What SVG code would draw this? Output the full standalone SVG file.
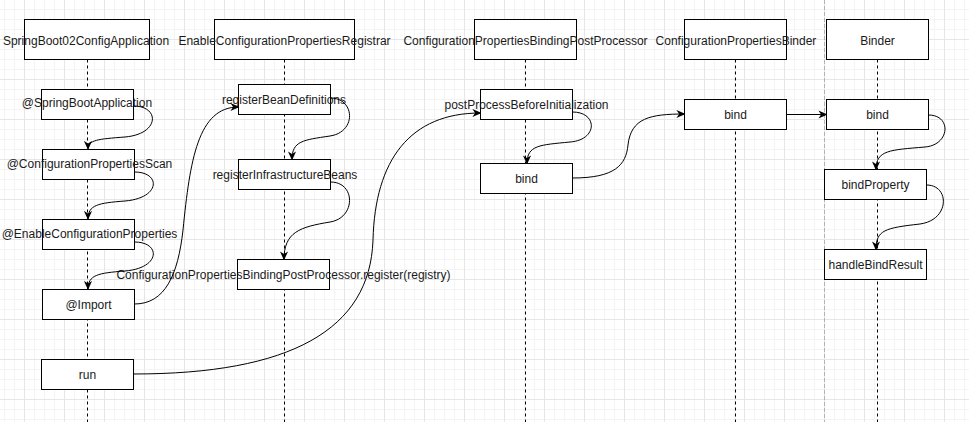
<svg xmlns="http://www.w3.org/2000/svg" width="969" height="422" viewBox="0 0 969 422">
<style>
.box{fill:#fff;stroke:#000;stroke-width:1}
.t{font-family:"Liberation Sans",Arial,Helvetica,sans-serif;font-size:12px;fill:#1a1a1a;text-anchor:middle}
.life{stroke:#000;stroke-width:1;stroke-dasharray:3 3;fill:none}
.edge{fill:none;stroke:#000;stroke-width:1;marker-end:url(#arr)}
</style>
<defs>
<pattern id="grid" width="40" height="40" patternUnits="userSpaceOnUse" x="24" y="39">
<path d="M10.5 0V40M20.5 0V40M30.5 0V40M0 10.5H40M0 20.5H40M0 30.5H40" stroke="#f4f4f4" stroke-width="1" fill="none"/>
<path d="M0.5 0V40M0 0.5H40" stroke="#e6e6e6" stroke-width="1" fill="none"/>
</pattern>
<marker id="arr" viewBox="0 0 10 10" refX="9" refY="5" markerWidth="9" markerHeight="9" markerUnits="userSpaceOnUse" orient="auto">
<path d="M0,0.5 L10,5 L0,9.5 L3,5 z" fill="#000"/>
</marker>
</defs>
<rect width="969" height="422" fill="#fff"/>
<rect width="969" height="422" fill="url(#grid)"/>
<line x1="824.5" y1="0" x2="824.5" y2="422" stroke="#b3b3b3" stroke-dasharray="4 2"/>

<g id="lifelines">
<line class="life" x1="87.5" y1="59.5" x2="87.5" y2="422"/>
<line class="life" x1="284.5" y1="59.5" x2="284.5" y2="422"/>
<line class="life" x1="525.5" y1="59.5" x2="525.5" y2="422"/>
<line class="life" x1="735.5" y1="59.5" x2="735.5" y2="422"/>
<line class="life" x1="877.5" y1="59.5" x2="877.5" y2="422"/>
</g>

<g id="h1"><rect class="box" x="24.5" y="19.5" width="125" height="40"/><text class="t" x="86" y="45">SpringBoot02ConfigApplication</text></g>
<g id="h2"><rect class="box" x="214.5" y="19.5" width="140" height="40"/><text class="t" x="284.5" y="45">EnableConfigurationPropertiesRegistrar</text></g>
<g id="h3"><rect class="box" x="474.5" y="19.5" width="102" height="40"/><text class="t" x="525.5" y="45">ConfigurationPropertiesBindingPostProcessor</text></g>
<g id="h4"><rect class="box" x="684.5" y="19.5" width="102" height="40"/><text class="t" x="736" y="45">ConfigurationPropertiesBinder</text></g>
<g id="h5"><rect class="box" x="826.5" y="19.5" width="102" height="40"/><text class="t" x="877.5" y="45">Binder</text></g>

<g id="a1"><rect class="box" x="41.5" y="89.5" width="92" height="30"/><text class="t" x="87" y="107">@SpringBootApplication</text></g>
<g id="a2"><rect class="box" x="42.5" y="149.5" width="92" height="30"/><text class="t" x="89.5" y="168">@ConfigurationPropertiesScan</text></g>
<g id="a3"><rect class="box" x="42.5" y="219.5" width="92" height="30"/><text class="t" x="89.5" y="238">@EnableConfigurationProperties</text></g>
<g id="a4"><rect class="box" x="42.5" y="289.5" width="92" height="30"/><text class="t" x="88.5" y="308.5">@Import</text></g>
<g id="a5"><rect class="box" x="41.5" y="359.5" width="92" height="30"/><text class="t" x="87.5" y="378.5">run</text></g>

<g id="b1"><rect class="box" x="238.5" y="84.5" width="92" height="30"/><text class="t" x="284" y="103.5">registerBeanDefinitions</text></g>
<g id="b2"><rect class="box" x="238.5" y="159.5" width="92" height="30"/><text class="t" x="285" y="179">registerInfrastructureBeans</text></g>
<g id="b3"><rect class="box" x="237.5" y="259.5" width="92" height="30"/><text class="t" x="283.5" y="278.5">ConfigurationPropertiesBindingPostProcessor.register(registry)</text></g>

<g id="c1"><rect class="box" x="480.5" y="89.5" width="92" height="30"/><text class="t" x="526.5" y="109">postProcessBeforeInitialization</text></g>
<g id="c2"><rect class="box" x="480.5" y="163.5" width="92" height="30"/><text class="t" x="526.5" y="182.5">bind</text></g>

<g id="d1"><rect class="box" x="684.5" y="99.5" width="102" height="30"/><text class="t" x="735.5" y="118.5">bind</text></g>

<g id="e1"><rect class="box" x="826.5" y="99.5" width="102" height="30"/><text class="t" x="877.5" y="118.5">bind</text></g>
<g id="e2"><rect class="box" x="824.5" y="169.5" width="102" height="30"/><text class="t" x="875.5" y="188.5">bindProperty</text></g>
<g id="e3"><rect class="box" x="824.5" y="249.5" width="102" height="30"/><text class="t" x="875.5" y="268.5">handleBindResult</text></g>

<g id="connectors">
<path class="edge" d="M133.5,106 C160,106 160,134 125,137 C98,139 88,140 88,149"/>
<path class="edge" d="M134.5,172 C161,172 161,198 125,201 C98,203 88,205 88,219"/>
<path class="edge" d="M134.5,242 C161,242 161,268 125,271 C98,273 88,275 88,289"/>
<path class="edge" d="M134.5,304 C165,304 178,275 183,230 C190,160 198,107 238.5,107"/>
<path class="edge" d="M330.5,98 C355,98 357,132 330,136 C303,140 292,141 292,159.5"/>
<path class="edge" d="M330.5,182 C356,182 356,218 330,222 C300,227 284,232 284,259.5"/>
<path class="edge" d="M133.5,374 C290,374 370,330 373,240 C375,160 410,113 480.5,113"/>
<path class="edge" d="M572.5,112 C598,112 598,140 570,142 C540,145 527,145 527,163.5"/>
<path class="edge" d="M572.5,178 C615,178 626,165 628,145 C631,118 650,114 684.5,114"/>
<path class="edge" d="M786.5,114.5 L826.5,114.5"/>
<path class="edge" d="M928.5,115 C952,115 950,145 925,147 C890,150 876,150 876,169.5"/>
<path class="edge" d="M926.5,185 C950,185 950,220 920,224 C885,228 876,230 876,249.5"/>
</g>
</svg>
